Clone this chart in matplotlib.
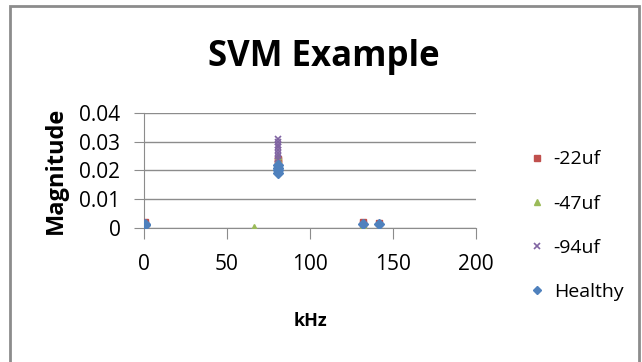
import matplotlib.pyplot as plt
from matplotlib.patches import Rectangle

# values (kHz, magnitude)
freq_22 = [0.5, 0.5, 80.5, 80.5, 80.5, 80.5, 80.5, 132, 132, 141.5]
mag_22 = [0.0020, 0.0015, 0.0200, 0.0215, 0.0225, 0.0235, 0.0240, 0.0020, 0.0015, 0.0018]

freq_47 = [66, 80.5, 80.5, 80.5, 80.5, 132]
mag_47 = [0.0005, 0.0220, 0.0230, 0.0240, 0.0250, 0.0010]

freq_94 = [80.5, 80.5, 80.5, 80.5, 80.5, 80.5, 80.5, 80.5]
mag_94 = [0.0240, 0.0250, 0.0260, 0.0270, 0.0280, 0.0290, 0.0300, 0.0310]

freq_healthy = [0.5, 0.5, 80.5, 80.5, 80.5, 80.5, 132, 141.5]
mag_healthy = [0.0015, 0.0010, 0.0190, 0.0200, 0.0210, 0.0220, 0.0013, 0.0013]

series = [
    ("-22uf", freq_22, mag_22, "s", "#C0504D"),
    ("-47uf", freq_47, mag_47, "^", "#9BBB59"),
    ("-94uf", freq_94, mag_94, "x", "#8064A2"),
    ("Healthy", freq_healthy, mag_healthy, "D", "#4F81BD"),
]

plt.rcParams['font.family'] = ['Open Sans', 'DejaVu Sans']

fig = plt.figure(figsize=(6.42, 3.62), dpi=100)
# chart border
fig.patches.append(Rectangle((10 / 642, -0.05), 629 / 642, 1 - 6 / 362 + 0.05,
                             transform=fig.transFigure, fill=False,
                             edgecolor="#8c8c8c", linewidth=2))

ax = fig.add_axes([144 / 642, 1 - 228 / 362, 332 / 642, 115 / 362])

for name, xs, ys, mk, col in series:
    ax.plot(xs, ys, linestyle="none", marker=mk, color=col, markersize=5,
            markeredgewidth=1.2 if mk == "x" else 1, label=name, zorder=3)

ax.set_xlim(0, 200)
ax.set_ylim(0, 0.04)
ax.set_xticks([0, 50, 100, 150, 200])
ax.set_yticks([0, 0.01, 0.02, 0.03, 0.04])
ax.set_yticklabels(["0", "0.01", "0.02", "0.03", "0.04"])
ax.grid(axis="y", color="#8c8c8c", linewidth=1)
ax.set_axisbelow(True)
for s in ["top", "right"]:
    ax.spines[s].set_visible(False)
for s in ["left", "bottom"]:
    ax.spines[s].set_color("#8c8c8c")
ax.tick_params(axis="x", length=8, color="#8c8c8c", labelsize=15, pad=11)
ax.tick_params(axis="y", length=7, color="#8c8c8c", labelsize=15, pad=10)

ax.set_xlabel("kHz", fontsize=13, fontweight="bold", labelpad=26)
ax.set_ylabel("Magnitude", fontsize=17, fontweight="bold", labelpad=8)
fig.text(324 / 642, 1 - 57 / 362, "SVM Example", fontsize=25, fontweight="bold",
         ha="center", va="center")

ax.legend(loc="upper left", bbox_to_anchor=(510 / 642, 1 - 133 / 362),
          bbox_transform=fig.transFigure, frameon=False, fontsize=14,
          labelspacing=1.35, handletextpad=0.35, handlelength=1, markerscale=0.8)

fig.savefig("out.png", dpi=100)
